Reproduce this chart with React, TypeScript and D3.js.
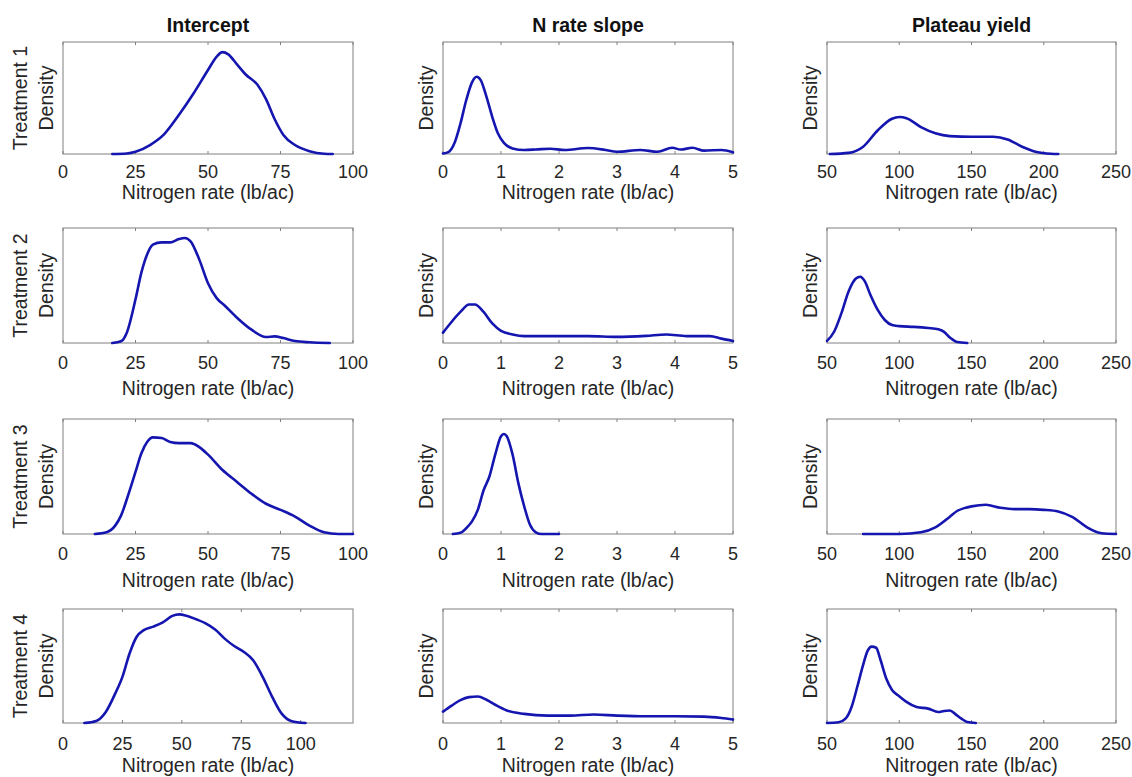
import React from "react";
import * as d3 from "d3";

// ---------- categories / labels ----------
const treatments = ["Treatment 1", "Treatment 2", "Treatment 3", "Treatment 4"];
const parameters = ["Intercept", "N rate slope", "Plateau yield"];
const xLabel = "Nitrogen rate (lb/ac)";
const yLabel = "Density";

// ---------- tick labels ----------
const interceptTicks = [0, 25, 50, 75, 100];
const slopeTicks = [0, 1, 2, 3, 4, 5];
const plateauTicks = [50, 100, 150, 200, 250];

// ---------- axis domains ----------
const interceptDomain = [0, 100];
const interceptDomainT4 = [0, 122];
const slopeDomain = [0, 5];
const plateauDomain = [50, 250];

// ---------- density curves (x, relative density) ----------
const t1Intercept = [[17,0],[22,0.005],[25,0.02],[30,0.08],[35,0.18],[40,0.35],[45,0.54],[50,0.75],[53,0.87],[55,0.91],[57,0.89],[60,0.8],[63,0.71],[67,0.62],[70,0.49],[73,0.31],[76,0.17],[80,0.08],[85,0.025],[90,0.002],[93,0]];
const t1Slope = [[0,0.005],[0.1,0.02],[0.2,0.1],[0.3,0.27],[0.4,0.48],[0.5,0.64],[0.58,0.69],[0.65,0.66],[0.75,0.51],[0.85,0.33],[0.95,0.18],[1.05,0.1],[1.2,0.05],[1.4,0.036],[1.6,0.04],[1.85,0.047],[2.1,0.036],[2.5,0.053],[2.8,0.036],[3.0,0.02],[3.4,0.036],[3.7,0.02],[3.95,0.056],[4.1,0.04],[4.3,0.056],[4.5,0.03],[4.8,0.036],[5.0,0.015]];
const t1Plateau = [[52,0],[65,0.01],[75,0.065],[85,0.21],[95,0.315],[100,0.33],[105,0.32],[115,0.24],[125,0.185],[135,0.16],[150,0.154],[165,0.154],[175,0.13],[185,0.065],[195,0.018],[205,0.002],[210,0]];

const t2Intercept = [[17,0],[20,0.015],[22,0.09],[25,0.38],[27,0.61],[29,0.77],[31,0.855],[34,0.875],[37,0.875],[40,0.904],[42,0.913],[44,0.884],[47,0.725],[50,0.52],[53,0.39],[56,0.32],[60,0.22],[65,0.116],[70,0.052],[73,0.058],[76,0.043],[80,0.017],[85,0.006],[92,0]];
const t2Slope = [[0,0.09],[0.15,0.185],[0.3,0.27],[0.45,0.335],[0.55,0.335],[0.7,0.27],[0.85,0.17],[1.0,0.106],[1.2,0.074],[1.4,0.06],[2.0,0.06],[2.5,0.06],[3.0,0.053],[3.5,0.062],[3.85,0.074],[4.2,0.06],[4.6,0.06],[4.8,0.038],[5.0,0.018]];
const t2Plateau = [[50,0.018],[55,0.1],[60,0.26],[65,0.45],[70,0.56],[73,0.576],[76,0.54],[80,0.42],[85,0.29],[90,0.2],[95,0.156],[100,0.147],[110,0.14],[120,0.13],[127,0.12],[131,0.097],[135,0.047],[140,0.009],[147,0]];

const t3Intercept = [[11,0],[15,0.015],[18,0.073],[20,0.16],[23,0.38],[25,0.54],[27,0.7],[29,0.8],[31,0.84],[34,0.835],[37,0.8],[40,0.79],[44,0.79],[47,0.755],[50,0.69],[55,0.556],[60,0.453],[65,0.35],[70,0.263],[75,0.21],[80,0.152],[85,0.073],[90,0.015],[95,0],[100,0]];
const t3Slope = [[0.17,0],[0.3,0.01],[0.4,0.05],[0.5,0.11],[0.6,0.21],[0.7,0.38],[0.8,0.5],[0.9,0.69],[1.0,0.85],[1.05,0.87],[1.1,0.85],[1.2,0.69],[1.3,0.44],[1.4,0.24],[1.5,0.08],[1.6,0.015],[1.7,0],[2.0,0]];
const t3Plateau = [[75,0],[100,0],[115,0.015],[125,0.058],[135,0.15],[140,0.2],[145,0.225],[150,0.24],[160,0.254],[170,0.228],[180,0.216],[190,0.216],[200,0.21],[210,0.196],[220,0.146],[230,0.058],[240,0.006],[250,0]];

const t4Intercept = [[9,0],[14,0.018],[18,0.097],[22,0.26],[25,0.405],[28,0.61],[31,0.757],[34,0.815],[38,0.845],[42,0.883],[46,0.94],[49,0.953],[52,0.94],[56,0.91],[60,0.874],[64,0.82],[68,0.74],[72,0.675],[76,0.625],[80,0.55],[84,0.405],[88,0.23],[92,0.082],[96,0.018],[102,0]];
const t4Slope = [[0,0.1],[0.15,0.153],[0.3,0.2],[0.45,0.227],[0.6,0.233],[0.75,0.204],[0.9,0.16],[1.1,0.11],[1.4,0.08],[1.8,0.065],[2.2,0.065],[2.6,0.074],[3.0,0.065],[3.5,0.059],[4.0,0.059],[4.5,0.056],[4.8,0.044],[5.0,0.03]];
const t4Plateau = [[50,0],[58,0.006],[63,0.04],[67,0.14],[71,0.32],[75,0.51],[78,0.63],[81,0.67],[84,0.66],[87,0.555],[91,0.39],[95,0.29],[100,0.235],[105,0.185],[112,0.14],[120,0.126],[127,0.097],[131,0.106],[135,0.11],[139,0.076],[143,0.038],[147,0.009],[153,0]];

// ---------- assemble ----------
const curves = [
  [t1Intercept, t1Slope, t1Plateau],
  [t2Intercept, t2Slope, t2Plateau],
  [t3Intercept, t3Slope, t3Plateau],
  [t4Intercept, t4Slope, t4Plateau],
];
const domains = [
  [interceptDomain, slopeDomain, plateauDomain],
  [interceptDomain, slopeDomain, plateauDomain],
  [interceptDomain, slopeDomain, plateauDomain],
  [interceptDomainT4, slopeDomain, plateauDomain],
];
const ticksByCol = [interceptTicks, slopeTicks, plateauTicks];

// ---------- layout ----------
const W = 1132, H = 777;
const colLeft = [63, 443, 827];
const colRight = [353, 733, 1116];
const rowTop = [42, 228, 419, 609];
const rowBottom = [154, 343, 534, 723];
const tickOff = [24, 26, 26, 27];
const xlabOff = [45, 52, 53, 49];
const FONT = "'Liberation Sans', Arial, Helvetica, sans-serif";
const LINE = "#1515b0";
const BOX = "#808080";
const TXT = "#262626";

function Panel({ r, c }: { r: number; c: number }) {
  const x = d3.scaleLinear().domain(domains[r][c]).range([colLeft[c], colRight[c]]);
  const y = d3.scaleLinear().domain([0, 1]).range([rowBottom[r], rowTop[r]]);
  const line = d3
    .line<number[]>()
    .x((d) => x(d[0]))
    .y((d) => y(d[1]))
    .curve(d3.curveMonotoneX);
  const ticks = ticksByCol[c];
  const top = rowTop[r], bot = rowBottom[r];
  const left = colLeft[c], right = colRight[c];
  return (
    <g>
      <rect x={left} y={top} width={right - left} height={bot - top} fill="white" stroke={BOX} strokeWidth={1} />
      {ticks.map((t) => (
        <g key={t}>
          <line x1={x(t)} x2={x(t)} y1={bot} y2={bot - 3} stroke={BOX} />
          <line x1={x(t)} x2={x(t)} y1={top} y2={top + 3} stroke={BOX} />
          <text x={x(t)} y={bot + tickOff[r]} textAnchor="middle" fontSize={18} fill={TXT} fontFamily={FONT}>
            {t}
          </text>
        </g>
      ))}
      <path d={line(curves[r][c]) || ""} fill="none" stroke={LINE} strokeWidth={2.6} strokeLinejoin="round" strokeLinecap="round" />
      <text x={(left + right) / 2} y={bot + xlabOff[r]} textAnchor="middle" fontSize={19.5} fill={TXT} fontFamily={FONT}>
        {xLabel}
      </text>
      <text
        transform={`translate(${left - 10},${(top + bot) / 2}) rotate(-90)`}
        textAnchor="middle"
        fontSize={19.5}
        fill={TXT}
        fontFamily={FONT}
      >
        {yLabel}
      </text>
    </g>
  );
}

export default function App() {
  return (
    <svg width={W} height={H} style={{ position: "absolute", left: 0, top: 0, background: "white" }}>
      <rect width={W} height={H} fill="white" />
      {parameters.map((p, c) => (
        <text key={p} x={(colLeft[c] + colRight[c]) / 2} y={32} textAnchor="middle" fontSize={19.5} fontWeight="bold" fill="#111" fontFamily={FONT}>
          {p}
        </text>
      ))}
      {treatments.map((t, r) => (
        <text
          key={t}
          transform={`translate(27,${(rowTop[r] + rowBottom[r]) / 2}) rotate(-90)`}
          textAnchor="middle"
          fontSize={19.5}
          fill={TXT}
          fontFamily={FONT}
        >
          {t}
        </text>
      ))}
      {treatments.map((_, r) => parameters.map((__, c) => <Panel key={`${r}-${c}`} r={r} c={c} />))}
    </svg>
  );
}
